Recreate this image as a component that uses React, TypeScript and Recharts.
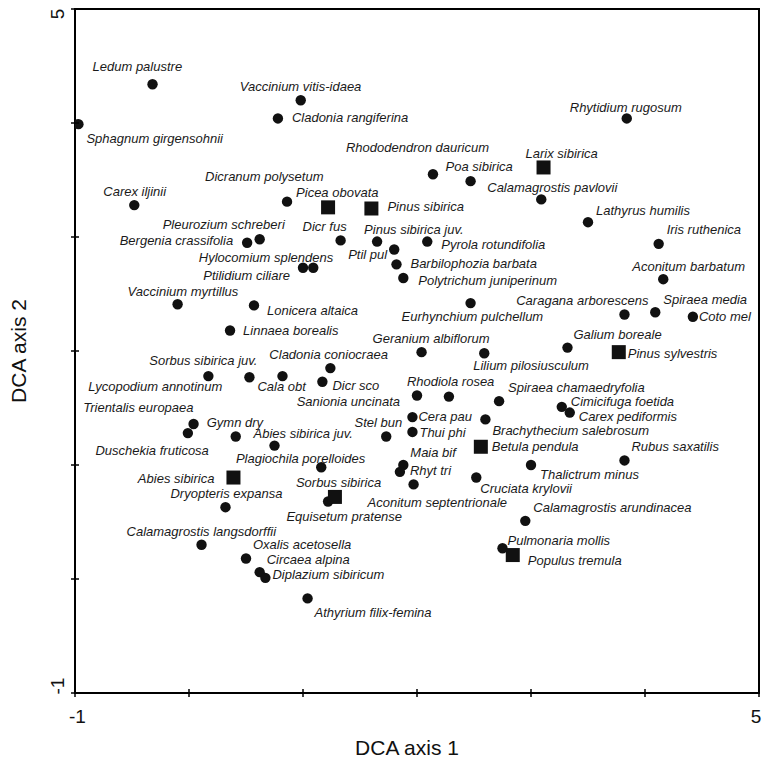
import React from 'react';
import { ScatterChart, Scatter, XAxis, YAxis, ReferenceArea, Label } from 'recharts';

// ---- data ----
const speciesNames = [
  'Ledum palustre', 'Sphagnum girgensohnii', 'Vaccinium vitis-idaea', 'Cladonia rangiferina', 'Rhytidium rugosum',
  'Rhododendron dauricum', 'Poa sibirica', 'Calamagrostis pavlovii', 'Lathyrus humilis', 'Iris ruthenica',
  'Dicranum polysetum', 'Carex iljinii', 'Pleurozium schreberi', 'Bergenia crassifolia', 'Dicr fus',
  'Pinus sibirica juv.', 'Pyrola rotundifolia', 'Ptil pul', 'Barbilophozia barbata', 'Polytrichum juniperinum',
  'Hylocomium splendens', 'Ptilidium ciliare', 'Aconitum barbatum', 'Vaccinium myrtillus', 'Lonicera altaica',
  'Eurhynchium pulchellum', 'Caragana arborescens', 'Spiraea media', 'Coto mel', 'Linnaea borealis',
  'Galium boreale', 'Geranium albiflorum', 'Lilium pilosiusculum', 'Cladonia coniocraea', 'Lycopodium annotinum',
  'Sorbus sibirica juv.', 'Cala obt', 'Dicr sco', 'Sanionia uncinata', 'Rhodiola rosea',
  'Spiraea chamaedryfolia', 'Cimicifuga foetida', 'Carex pediformis', 'Cera pau', 'Brachythecium salebrosum',
  'Trientalis europaea', 'Duschekia fruticosa', 'Gymn dry', 'Thui phi', 'Stel bun',
  'Abies sibirica juv.', 'Rubus saxatilis', 'Thalictrum minus', 'Maia bif', 'Rhyt tri',
  'Plagiochila porelloides', 'Cruciata krylovii', 'Aconitum septentrionale', 'Equisetum pratense', 'Dryopteris expansa',
  'Calamagrostis arundinacea', 'Calamagrostis langsdorffii', 'Pulmonaria mollis', 'Oxalis acetosella', 'Circaea alpina',
  'Diplazium sibiricum', 'Athyrium filix-femina',
];
const speciesAxis1 = [
  -0.32, -0.97, 0.98, 0.78, 3.84,
  2.14, 2.47, 3.09, 3.50, 4.12,
  0.86, -0.48, 0.62, 0.51, 1.33,
  1.65, 2.09, 1.80, 1.82, 1.88,
  1.09, 1.00, 4.16, -0.10, 0.57,
  2.47, 3.82, 4.09, 4.42, 0.36,
  3.32, 2.04, 2.59, 1.24, 0.17,
  0.53, 0.82, 1.17, 2.00, 2.28,
  2.72, 3.27, 3.34, 1.96, 2.60,
  0.04, -0.01, 0.41, 1.96, 1.73,
  0.75, 3.82, 3.00, 1.88, 1.85,
  1.16, 2.52, 1.97, 1.22, 0.32,
  2.95, 0.11, 2.75, 0.50, 0.62,
  0.67, 1.04,
];
const speciesAxis2 = [
  4.34, 3.99, 4.20, 4.04, 4.04,
  3.55, 3.49, 3.33, 3.13, 2.94,
  3.31, 3.28, 2.98, 2.95, 2.97,
  2.96, 2.96, 2.89, 2.76, 2.64,
  2.73, 2.73, 2.63, 2.41, 2.40,
  2.42, 2.32, 2.34, 2.30, 2.18,
  2.03, 1.99, 1.98, 1.85, 1.78,
  1.77, 1.78, 1.73, 1.61, 1.60,
  1.56, 1.51, 1.46, 1.42, 1.40,
  1.36, 1.28, 1.25, 1.29, 1.25,
  1.17, 1.04, 1.00, 1.00, 0.94,
  0.98, 0.89, 0.83, 0.68, 0.63,
  0.51, 0.30, 0.27, 0.18, 0.06,
  0.01, -0.17,
];

const treeNames = [
  'Larix sibirica', 'Picea obovata', 'Pinus sibirica', 'Pinus sylvestris',
  'Betula pendula', 'Abies sibirica', 'Sorbus sibirica', 'Populus tremula',
];
const treeAxis1 = [3.11, 1.22, 1.60, 3.77, 2.56, 0.39, 1.28, 2.84];
const treeAxis2 = [3.61, 3.26, 3.25, 1.99, 1.16, 0.89, 0.72, 0.21];

const axisTicks = [-1, 0, 1, 2, 3, 4, 5];
const labelledTicks = [-1, 5];
const xTitle = 'DCA axis 1';
const yTitle = 'DCA axis 2';

// ---- label placement (offset from the marker, anchor) ----
const labelPlacement: Record<string, [number, number, 'start' | 'end' | 'middle']> = {
  'Ledum palustre': [-60, -18, 'start'],
  'Sphagnum girgensohnii': [8, 14, 'start'],
  'Vaccinium vitis-idaea': [-61, -14, 'start'],
  'Cladonia rangiferina': [14, -1, 'start'],
  'Rhytidium rugosum': [-57, -11, 'start'],
  'Rhododendron dauricum': [-87, -27, 'start'],
  'Poa sibirica': [-25, -15, 'start'],
  'Larix sibirica': [-18, -14, 'start'],
  'Calamagrostis pavlovii': [-54, -12, 'start'],
  'Lathyrus humilis': [8, -12, 'start'],
  'Iris ruthenica': [8, -14, 'start'],
  'Dicranum polysetum': [-82, -25, 'start'],
  'Carex iljinii': [-31, -14, 'start'],
  'Picea obovata': [-32, -15, 'start'],
  'Pinus sibirica': [16, -2, 'start'],
  'Pleurozium schreberi': [-97, -15, 'start'],
  'Bergenia crassifolia': [-14, -2, 'end'],
  'Dicr fus': [-16, -14, 'middle'],
  'Pinus sibirica juv.': [-13, -12, 'start'],
  'Pyrola rotundifolia': [14, 3, 'start'],
  'Ptil pul': [-7, 5, 'end'],
  'Barbilophozia barbata': [14, -1, 'start'],
  'Polytrichum juniperinum': [15, 2, 'start'],
  'Hylocomium splendens': [20, -10, 'end'],
  'Ptilidium ciliare': [-13, 8, 'end'],
  'Aconitum barbatum': [-31, -13, 'start'],
  'Vaccinium myrtillus': [-50, -13, 'start'],
  'Lonicera altaica': [13, 5, 'start'],
  'Eurhynchium pulchellum': [-69, 13, 'start'],
  'Caragana arborescens': [24, -14, 'end'],
  'Spiraea media': [8, -13, 'start'],
  'Coto mel': [6, 0, 'start'],
  'Linnaea borealis': [13, 0, 'start'],
  'Galium boreale': [6, -13, 'start'],
  'Pinus sylvestris': [9, 1, 'start'],
  'Geranium albiflorum': [-49, -14, 'start'],
  'Lilium pilosiusculum': [-11, 12, 'start'],
  'Cladonia coniocraea': [-61, -14, 'start'],
  'Lycopodium annotinum': [14, 10, 'end'],
  'Sorbus sibirica juv.': [8, -17, 'end'],
  'Cala obt': [-25, 10, 'start'],
  'Dicr sco': [10, 4, 'start'],
  'Sanionia uncinata': [-17, 6, 'end'],
  'Rhodiola rosea': [-42, -15, 'start'],
  'Spiraea chamaedryfolia': [9, -14, 'start'],
  'Cimicifuga foetida': [9, -5, 'start'],
  'Carex pediformis': [9, 4, 'start'],
  'Cera pau': [6, -1, 'start'],
  'Brachythecium salebrosum': [7, 11, 'start'],
  'Trientalis europaea': [0, -16, 'end'],
  'Duschekia fruticosa': [21, 17, 'end'],
  'Gymn dry': [-29, -14, 'start'],
  'Thui phi': [7, 1, 'start'],
  'Stel bun': [16, -14, 'end'],
  'Abies sibirica juv.': [-21, -12, 'start'],
  'Betula pendula': [11, 0, 'start'],
  'Rubus saxatilis': [7, -14, 'start'],
  'Thalictrum minus': [9, 9, 'start'],
  'Maia bif': [7, -13, 'start'],
  'Rhyt tri': [10, -1, 'start'],
  'Plagiochila porelloides': [44, -9, 'end'],
  'Abies sibirica': [-19, 1, 'end'],
  'Cruciata krylovii': [4, 11, 'start'],
  'Aconitum septentrionale': [-46, 18, 'start'],
  'Sorbus sibirica': [-39, -14, 'start'],
  'Equisetum pratense': [74, 15, 'end'],
  'Dryopteris expansa': [-55, -14, 'start'],
  'Calamagrostis arundinacea': [8, -13, 'start'],
  'Calamagrostis langsdorffii': [-75, -13, 'start'],
  'Pulmonaria mollis': [5, -8, 'start'],
  'Populus tremula': [15, 5, 'start'],
  'Oxalis acetosella': [7, -14, 'start'],
  'Circaea alpina': [7, -13, 'start'],
  'Diplazium sibiricum': [7, -3, 'start'],
  'Athyrium filix-femina': [7, 14, 'start'],
};

const speciesData = speciesNames.map((name, i) => ({ name, x: speciesAxis1[i], y: speciesAxis2[i] }));
const treeData = treeNames.map((name, i) => ({ name, x: treeAxis1[i], y: treeAxis2[i] }));

const FONT = "'Liberation Sans', Arial, Helvetica, sans-serif";
const INK = '#111';

const PointLabel = ({ cx, cy, name }: { cx: number; cy: number; name: string }) => {
  const p = labelPlacement[name] || [8, 0, 'start'];
  return (
    <text
      x={cx + p[0]}
      y={cy + p[1] + 4.5}
      textAnchor={p[2]}
      fontFamily={FONT}
      fontStyle="italic"
      fontSize={13}
      fill="#1a1a1a"
    >
      {name}
    </text>
  );
};

const CircleShape = (props: any) => {
  const { cx, cy, payload } = props;
  if (cx == null || cy == null) return <g />;
  return (
    <g>
      <circle cx={cx} cy={cy} r={5.2} fill={INK} />
      <PointLabel cx={cx} cy={cy} name={payload.name} />
    </g>
  );
};

const SquareShape = (props: any) => {
  const { cx, cy, payload } = props;
  if (cx == null || cy == null) return <g />;
  return (
    <g>
      <rect x={cx - 7} y={cy - 7} width={14} height={14} fill={INK} />
      <PointLabel cx={cx} cy={cy} name={payload.name} />
    </g>
  );
};

const XTick = (props: any) => {
  const { x, y, payload } = props;
  const v = payload.value;
  const show = labelledTicks.includes(v);
  return (
    <g>
      <line x1={x} x2={x} y1={y - 4} y2={y + 4} stroke="#000" strokeWidth={1.5} />
      {show && (
        <text x={x + (v === -1 ? 2.5 : -3)} y={y + 30} textAnchor="middle" fontFamily={FONT} fontSize={19} fill={INK}>
          {v}
        </text>
      )}
    </g>
  );
};

const YTick = (props: any) => {
  const { x, y, payload } = props;
  const v = payload.value;
  const show = labelledTicks.includes(v);
  const cy = y + (v === -1 ? -7 : 5);
  const bx = x - 11;
  return (
    <g>
      <line x1={x - 4} x2={x + 4} y1={y} y2={y} stroke="#000" strokeWidth={1.5} />
      {show && (
        <text
          x={bx}
          y={cy}
          transform={`rotate(-90, ${bx}, ${cy})`}
          textAnchor="middle"
          fontFamily={FONT}
          fontSize={19}
          fill={INK}
        >
          {v}
        </text>
      )}
    </g>
  );
};

const XTitle = (props: any) => {
  const vb = props.viewBox || { x: 75, y: 693, width: 684, height: 65 };
  return (
    <text x={vb.x + vb.width / 2 - 10} y={vb.y + 62} textAnchor="middle" fontFamily={FONT} fontSize={21} fill={INK}>
      {xTitle}
    </text>
  );
};

const YTitle = (props: any) => {
  const vb = props.viewBox || { x: 0, y: 9, width: 75, height: 684 };
  const tx = vb.x + 26;
  const ty = vb.y + vb.height / 2;
  return (
    <text
      x={tx}
      y={ty}
      transform={`rotate(-90, ${tx}, ${ty})`}
      textAnchor="middle"
      fontFamily={FONT}
      fontSize={21}
      fill={INK}
    >
      {yTitle}
    </text>
  );
};

export default function App() {
  return (
    <div style={{ position: 'absolute', left: 0, top: 0, background: '#fff' }}>
      <ScatterChart width={765} height={758} margin={{ top: 9, right: 6, bottom: 0, left: 0 }}>
        <XAxis
          type="number"
          dataKey="x"
          domain={[-1, 5]}
          ticks={axisTicks}
          interval={0}
          allowDataOverflow
          height={65}
          axisLine={{ stroke: '#000', strokeWidth: 2 }}
          tickLine={false}
          tickSize={0}
          tickMargin={0}
          tick={<XTick />}
        >
          <Label content={<XTitle />} />
        </XAxis>
        <YAxis
          type="number"
          dataKey="y"
          domain={[-1, 5]}
          ticks={axisTicks}
          interval={0}
          allowDataOverflow
          width={75}
          axisLine={{ stroke: '#000', strokeWidth: 2 }}
          tickLine={false}
          tickSize={0}
          tickMargin={0}
          tick={<YTick />}
        >
          <Label content={<YTitle />} />
        </YAxis>
        <ReferenceArea x1={-1} x2={5} y1={-1} y2={5} fill="none" stroke="#000" strokeWidth={2} ifOverflow="visible" />
        <Scatter data={speciesData} shape={<CircleShape />} isAnimationActive={false} />
        <Scatter data={treeData} shape={<SquareShape />} isAnimationActive={false} />
      </ScatterChart>
    </div>
  );
}
